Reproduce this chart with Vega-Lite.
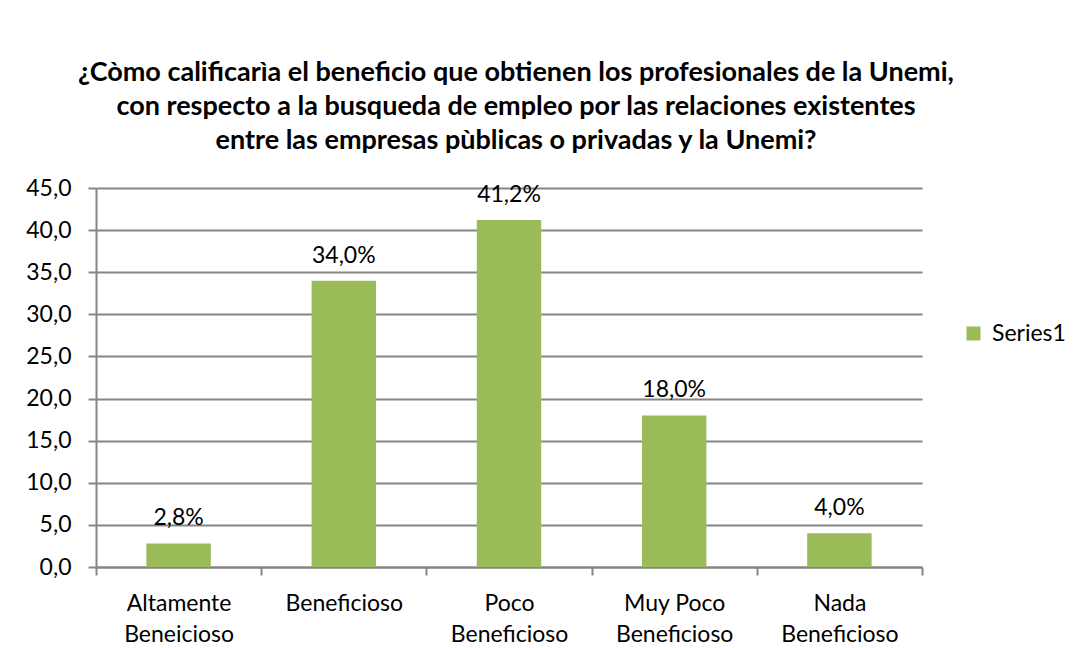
{
  "$schema": "https://vega.github.io/schema/vega-lite/v6.json",
  "autosize": {"type": "pad"},
  "padding": {"left": 25, "top": 59, "right": 5, "bottom": 5},
  "width": 826,
  "height": 379,
  "background": "white",
  "title": {
    "text": ["¿Còmo calificarìa el beneficio que obtienen los profesionales de la Unemi,", "con respecto a la busqueda de empleo por las relaciones existentes", "entre las empresas pùblicas o privadas y la Unemi?"],
    "font": "Lato",
    "fontSize": 27,
    "fontWeight": "bold",
    "color": "#000000",
    "lineHeight": 34,
    "anchor": "middle",
    "dx": 7,
    "offset": 22
  },
  "data": {
    "values": [
      {"categoria": "Altamente Beneicioso", "valor": 2.8, "serie": "Series1"},
      {"categoria": "Beneficioso", "valor": 34.0, "serie": "Series1"},
      {"categoria": "Poco Beneficioso", "valor": 41.2, "serie": "Series1"},
      {"categoria": "Muy Poco Beneficioso", "valor": 18.0, "serie": "Series1"},
      {"categoria": "Nada Beneficioso", "valor": 4.0, "serie": "Series1"}
    ]
  },
  "transform": [
    {"calculate": "replace(format(datum.valor, '.1f'), '.', ',') + '%'", "as": "etiqueta"}
  ],
  "encoding": {
    "x": {
      "field": "categoria",
      "type": "nominal",
      "sort": null,
      "scale": {"paddingInner": 0, "paddingOuter": 0},
      "axis": {
        "title": null,
        "labelAngle": 0,
        "labelFont": "Lato",
        "labelFontSize": 23,
        "labelColor": "#000000",
        "labelLineHeight": 31,
        "labelPadding": 17,
        "labelBaseline": "top",
        "labelExpr": "datum.value == 'Altamente Beneicioso' ? ['Altamente', 'Beneicioso'] : datum.value == 'Poco Beneficioso' ? ['Poco', 'Beneficioso'] : datum.value == 'Muy Poco Beneficioso' ? ['Muy Poco', 'Beneficioso'] : datum.value == 'Nada Beneficioso' ? ['Nada', 'Beneficioso'] : datum.label",
        "tickBand": "extent",
        "tickSize": 8,
        "tickColor": "#868686",
        "tickWidth": 2,
        "domainColor": "#868686",
        "domainWidth": 2,
        "grid": false
      }
    },
    "y": {
      "field": "valor",
      "type": "quantitative",
      "scale": {"domain": [0, 45], "nice": false},
      "axis": {
        "title": null,
        "values": [0, 5, 10, 15, 20, 25, 30, 35, 40, 45],
        "format": ".1f",
        "labelFont": "Lato",
        "labelFontSize": 23,
        "labelColor": "#000000",
        "labelPadding": 17,
        "tickSize": 8,
        "tickColor": "#868686",
        "tickWidth": 2,
        "domainColor": "#868686",
        "domainWidth": 2,
        "grid": true,
        "gridColor": "#868686",
        "gridWidth": 2,
        "gridOpacity": 1
      }
    }
  },
  "layer": [
    {
      "mark": {"type": "bar", "width": {"band": 0.39}},
      "encoding": {
        "color": {
          "field": "serie",
          "type": "nominal",
          "scale": {"range": ["#9BBB59"]},
          "legend": {
            "title": null,
            "orient": "none",
            "legendX": 866,
            "legendY": 134,
            "symbolType": "square",
            "symbolSize": 196,
            "symbolOpacity": 1,
            "labelFont": "Lato",
            "labelFontSize": 23,
            "labelColor": "#000000",
            "labelOffset": 7
          }
        }
      }
    },
    {
      "mark": {"type": "text", "baseline": "bottom", "dy": -13, "font": "Lato", "fontSize": 23, "color": "#000000"},
      "encoding": {"text": {"field": "etiqueta"}}
    }
  ],
  "config": {
    "view": {"stroke": null},
    "locale": {"number": {"decimal": ",", "thousands": ".", "grouping": [3], "currency": ["", " €"]}}
  }
}
